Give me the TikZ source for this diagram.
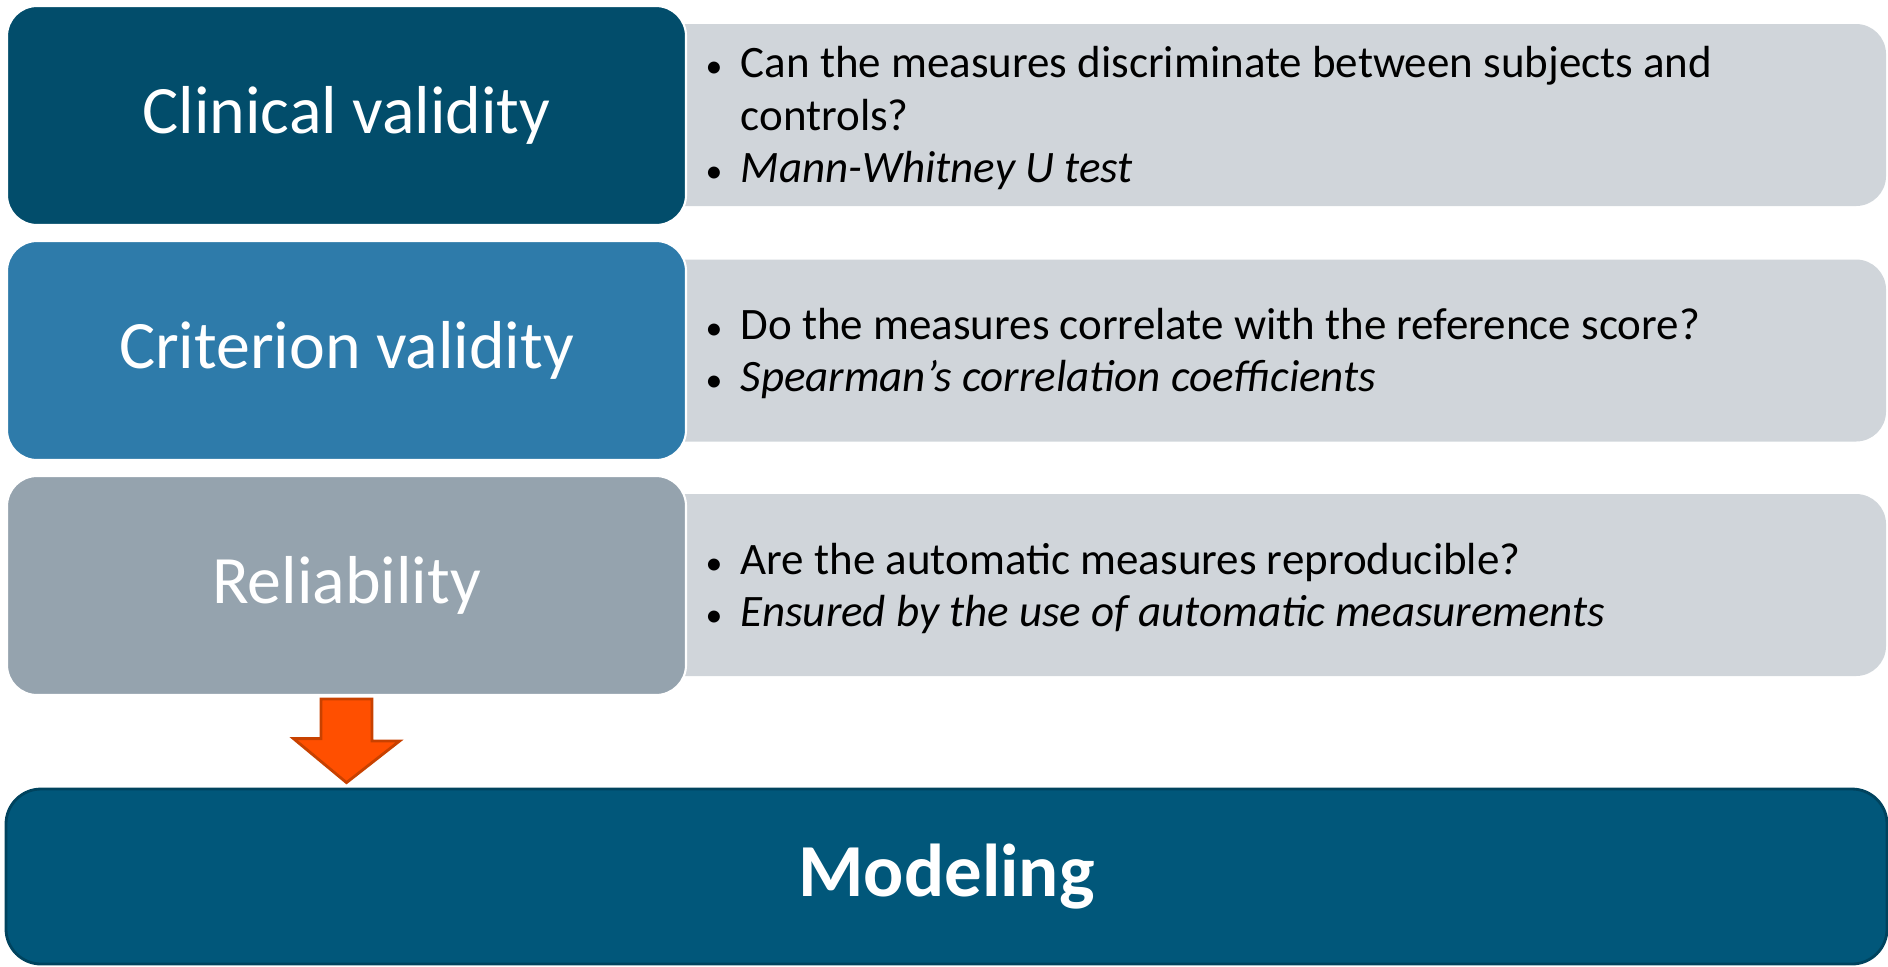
\documentclass[tikz,border=0pt]{standalone}
\usepackage{fontspec}
\setmainfont{Carlito}
\usepackage{xcolor}
\usetikzlibrary{positioning,calc}

\definecolor{clinblue}{HTML}{024D6B}
\definecolor{critblue}{HTML}{2E7BAA}
\definecolor{relgray}{HTML}{95A3AE}
\definecolor{notegray}{HTML}{D0D5DA}
\definecolor{modblue}{HTML}{01577A}
\definecolor{modedge}{HTML}{00435E}
\definecolor{arroworange}{HTML}{FF4F00}
\definecolor{arrowedge}{HTML}{C84100}

\newcommand{\bul}{\makebox[0.35cm][l]{\scalebox{0.75}{\textbullet}}}
\newcommand{\nobul}{\hspace*{0.35cm}}

\begin{document}
\begin{tikzpicture}[
    stage/.style={rectangle, rounded corners=0.3cm, draw=white, line width=0.6pt,
                  minimum width=6.79cm, minimum height=2.19cm,
                  text=white, font=\fontsize{19.3}{22}\selectfont},
    note/.style={rectangle, rounded corners=0.3cm, fill=notegray,
                 minimum width=12.86cm, minimum height=1.82cm},
    notetext/.style={anchor=west, align=left, inner sep=0pt,
                     font=\fontsize{12.8}{14.8}\selectfont},
    blockarrow/.style={fill=arroworange, draw=arrowedge, line width=0.8pt, line join=miter}
]
\useasboundingbox (0,0) rectangle (18.88,-9.66);

% grey question panels
\node[note] (g1) at (12.43,-1.15) {};
\node[note] (g2) at (12.43,-3.505) {};
\node[note] (g3) at (12.43,-5.85) {};

% stages
\node[stage, fill=clinblue] (clin) at (3.465,-1.155) {Clinical validity};
\node[stage, fill=critblue] (crit) at (3.465,-3.505) {Criterion validity};
\node[stage, fill=relgray] (rel) at (3.465,-5.855) {Reliability};

% questions
\node[notetext] (q1) at (7.05,-1.18) {\bul Can the measures discriminate between subjects and\\
  \nobul controls?\\ \bul \textit{Mann-Whitney U test}};
\node[notetext] (q2) at (7.05,-3.535) {\bul Do the measures correlate with the reference score?\\
  \bul \textit{Spearman's correlation coefficients}};
\node[notetext] (q3) at (7.05,-5.885) {\bul Are the automatic measures reproducible?\\
  \bul \textit{Ensured by the use of automatic measurements}};

% modeling
\node[rectangle, rounded corners=0.35cm, fill=modblue, draw=modedge, line width=0.8pt,
      minimum width=18.81cm, minimum height=1.75cm, text=white,
      font=\bfseries\fontsize{21.3}{25}\selectfont] (model) at (9.465,-8.765) {Modeling};

% block arrow
\coordinate (tip) at ($(model.north -| rel.south)+(0,0.05)$);
\draw[blockarrow] ($(rel.south)+(-0.255,-0.03)$) -- ++(0.51,0) -- ++(0,-0.42)
  -- ++(0.275,0) -- (tip) -- ++(-0.53,0.44) -- ++(0.275,0) -- cycle;

\end{tikzpicture}
\end{document}
